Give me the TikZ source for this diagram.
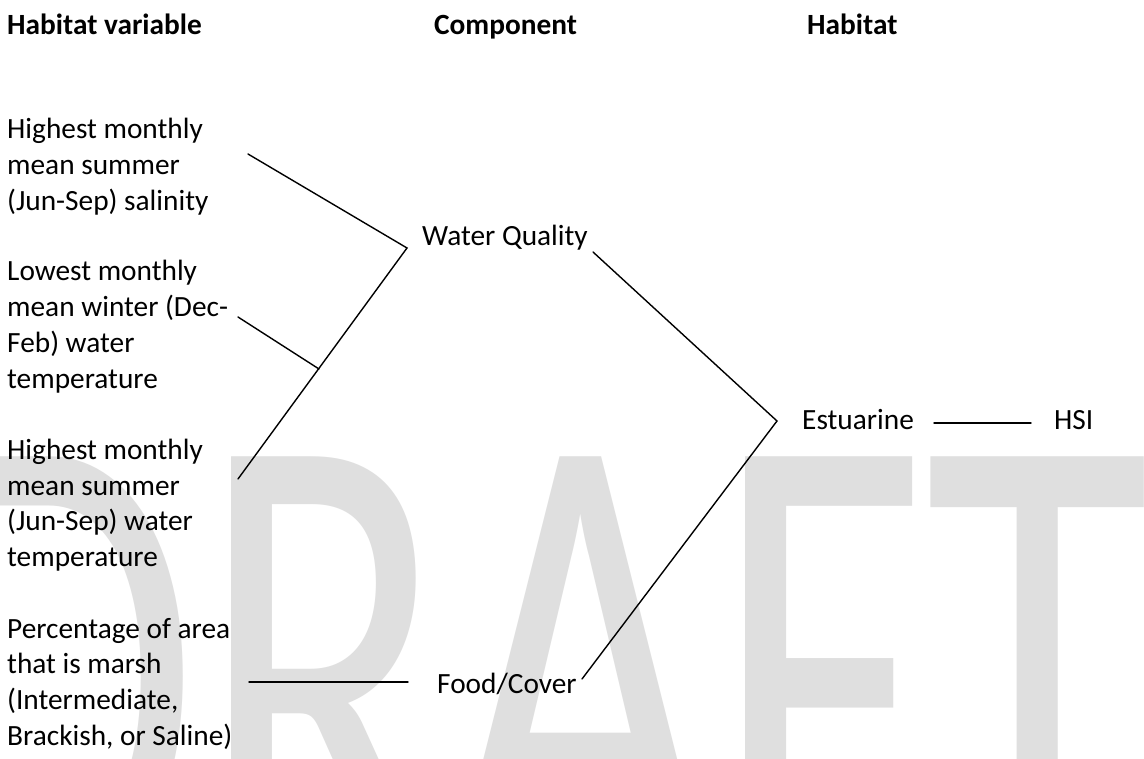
\documentclass[tikz,border=0pt]{standalone}
\usepackage{fontspec}
\setmainfont{Carlito}
\definecolor{wmgray}{RGB}{223,223,223}
\newcommand{\mylines}[1]{\begin{tabular}[t]{@{}l@{}}#1\end{tabular}}
\begin{document}
\begin{tikzpicture}[x=1pt,y=-1pt,
  lbl/.style={inner sep=0pt, anchor=base west, font=\fontsize{29.33}{35.7}\selectfont},
  hdr/.style={inner sep=0pt, anchor=base west, font=\fontsize{29.33}{35.7}\selectfont\bfseries},
  link/.style={line width=1.4pt, line cap=round}]
\useasboundingbox (0,0) rectangle (1144,759);
\fill[white] (0,0) rectangle (1144,759);
\begin{scope}
  \clip (0,0) rectangle (1144,759);
  \node[anchor=base west, inner sep=0pt, text=wmgray] (wm) at (-85,896)
    {\scalebox{1}[1.49]{\fontsize{460}{460}\selectfont DRAFT}};
\end{scope}
% headers
\node[hdr] (h1) at (7,34.5) {Habitat variable};
\node[hdr] (h2) at (434,34.5) {Component};
\node[hdr] (h3) at (807,34.5) {Habitat};
% habitat variables
\node[lbl] (v1) at (7,139) {\mylines{Highest monthly\\mean summer\\(Jun-Sep) salinity}};
\node[lbl] (v2) at (7,281) {\mylines{Lowest monthly\\mean winter (Dec-\\Feb) water\\temperature}};
\node[lbl] (v3) at (7,459.5) {\mylines{Highest monthly\\mean summer\\(Jun-Sep) water\\temperature}};
\node[lbl] (v4) at (7,638) {\mylines{Percentage of area\\that is marsh\\(Intermediate,\\Brackish, or Saline)}};
% components
\node[lbl] (wq) at (422,246) {Water Quality};
\node[lbl] (fc) at (437,693) {Food/Cover};
% habitat
\node[lbl] (es) at (802,430) {Estuarine};
\node[lbl] (hsi) at (1054,430) {HSI};
% junction coordinates
\coordinate (a1) at (248,154);
\coordinate (a2) at (238,317);
\coordinate (a3) at (238,479);
\coordinate (a4) at (249,682);
\coordinate (b4) at (408,682);
\coordinate (j1) at (407,248);
\coordinate (j2) at (319,369);
\coordinate (c1) at (593,252);
\coordinate (c2) at (582,679);
\coordinate (j3) at (777,421);
\coordinate (e1) at (934,423);
\coordinate (e2) at (1031,423);
% connectors
\draw[link] (a1) -- (j1) -- (a3);
\draw[link] (a2) -- (j2);
\draw[link] (a4) -- (b4);
\draw[link] (c1) -- (j3) -- (c2);
\draw[link] (e1) -- (e2);
\end{tikzpicture}
\end{document}
